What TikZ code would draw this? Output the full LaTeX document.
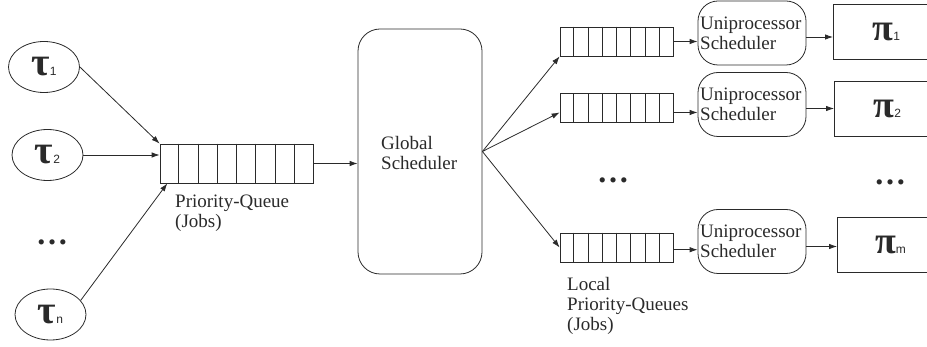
\documentclass[tikz,border=0pt]{standalone}
\usepackage{fontspec}
\setmainfont{Liberation Serif}
\newfontfamily\grk{Liberation Serif}
\newfontfamily\subsf{Liberation Sans}
\usetikzlibrary{arrows.meta,shapes.geometric,calc}
\definecolor{ink}{HTML}{2A2A2A}
\newcommand{\glab}[2]{{\grk\bfseries\fontsize{40}{40}\selectfont #1}{\subsf\fontsize{12}{12}\selectfont #2}}
\newcommand{\plab}[2]{{\grk\bfseries\fontsize{38}{38}\selectfont #1}{\subsf\fontsize{12}{12}\selectfont #2}}
\begin{document}
\begin{tikzpicture}[x=1pt,y=-1pt,
  every node/.style={text=ink},
  line/.style={draw=ink, line width=0.8pt},
  arr/.style={line, -{Latex[length=8pt,width=5.5pt]}},
  task/.style={ellipse, line, minimum width=71pt, minimum height=51pt, inner sep=0pt},
  queuebox/.style={line, rectangle, inner sep=0pt},
  bigq/.style={queuebox, minimum width=153pt, minimum height=39pt},
  smallq/.style={queuebox, minimum width=113pt, minimum height=29pt},
  globalbox/.style={line, rectangle, rounded corners=22pt, minimum width=124pt, minimum height=245pt, inner sep=0pt},
  unibox/.style={line, rectangle, rounded corners=20pt, minimum width=108pt, minimum height=64pt, inner sep=0pt},
  procbox/.style={line, rectangle, minimum width=106pt, minimum height=55pt, inner sep=0pt, anchor=west},
  txt/.style={font=\fontsize{19}{20}\selectfont, align=left, inner sep=0pt},
  dots/.style={font=\grk\bfseries\fontsize{32}{32}\selectfont, inner sep=0pt}
]
\useasboundingbox (0,0) rectangle (927,347);

% tasks
\node[task] (t1) at (44,67) {\glab{τ}{1}};
\node[task] (t2) at (47.5,155) {\glab{τ}{2}};
\node[task] (tn) at (50.5,314.5) {\glab{τ}{n}};
\node[dots] (d1) at (52,242) {…};

% global priority queue
\node[bigq] (pq) at (236.5,163.5) {};
\foreach \i in {1,...,7}
  \draw[line] ($(pq.north west)!\i/8!(pq.north east)$) -- ($(pq.south west)!\i/8!(pq.south east)$);
\node[txt, anchor=west] (pql) at (175,213) {Priority-Queue\\(Jobs)};

% global scheduler
\node[globalbox] (gs) at (420,151.5) {};
\node[txt, anchor=west] (gsl) at (381,153) {Global\\Scheduler};

% local queues
\node[smallq] (q1) at (616.5,41.5) {};
\node[smallq] (q2) at (616.5,108) {};
\node[smallq] (qm) at (616.5,247.5) {};
\foreach \q in {q1,q2,qm}
  \foreach \i in {1,...,7}
    \draw[line] ($(\q.north west)!\i/8!(\q.north east)$) -- ($(\q.south west)!\i/8!(\q.south east)$);
\node[dots] (d2) at (613,180) {…};
\node[txt, anchor=west] (lql) at (567,306) {Local\\Priority-Queues\\(Jobs)};

% uniprocessor schedulers
\node[unibox] (u1) at (752,33) {};
\node[unibox] (u2) at (752,104.5) {};
\node[unibox] (um) at (752,241.5) {};
\node[txt, anchor=west] (u1l) at (700,33) {Uniprocessor\\Scheduler};
\node[txt, anchor=west] (u2l) at (700,104.5) {Uniprocessor\\Scheduler};
\node[txt, anchor=west] (uml) at (700,241.5) {Uniprocessor\\Scheduler};

% processors
\node[procbox] (p1) at (833,31.5) {\plab{π}{1}};
\node[procbox] (p2) at (834,108.5) {\plab{π}{2}};
\node[procbox] (pm) at (837,245) {\plab{π}{m}};
\node[dots] (d3) at (890,182) {…};

% connectors
\draw[arr] (t1.east) -- (pq.north west);
\draw[arr] (t2.east) -- (t2.east -| pq.west);
\draw[arr] (tn.25) -- ($(pq.south west)!0.05!(pq.south east)$);
\draw[arr] (pq.east) -- (pq.east -| gs.west);
\draw[arr] (gs.east) -- (q1.south west);
\draw[arr] (gs.east) -- ($(q2.west)!0.3!(q2.south west)$);
\draw[arr] (gs.east) -- (qm.west);
\draw[arr] (q1.east) -- (q1.east -| u1.west);
\draw[arr] ($(q2.east)!0.3!(q2.south east)$) coordinate (c2) -- (c2 -| u2.west);
\draw[arr] ($(qm.east)!0.15!(qm.south east)$) coordinate (cm) -- (cm -| um.west);
\draw[arr] ($(u1.east)+(0,4)$) coordinate (e1) -- (e1 -| p1.west);
\draw[arr] ($(u2.east)+(0,4)$) coordinate (e2) -- (e2 -| p2.west);
\draw[arr] ($(um.east)+(0,5)$) coordinate (em) -- (em -| pm.west);
\end{tikzpicture}
\end{document}
